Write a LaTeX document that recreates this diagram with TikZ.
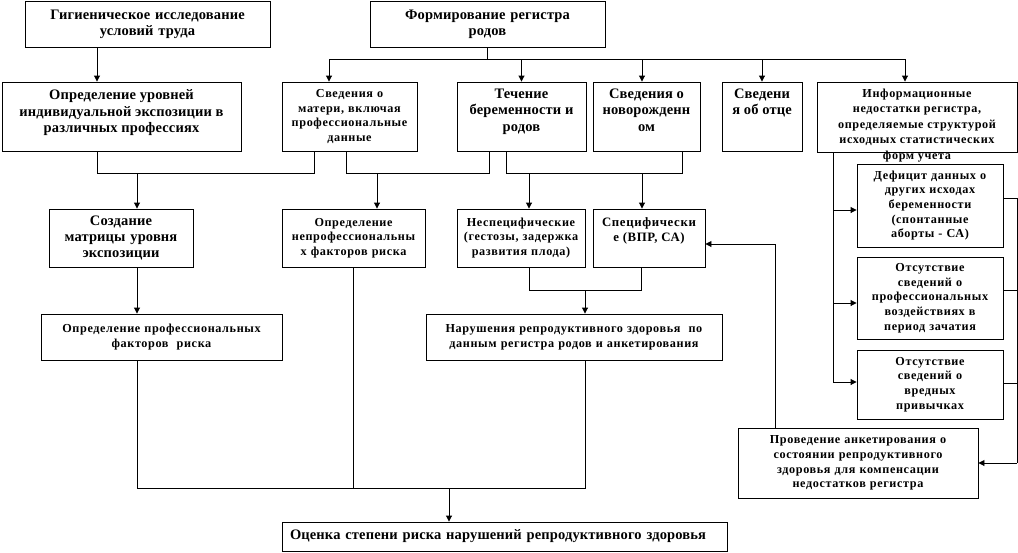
\documentclass[tikz,border=0pt]{standalone}
\usepackage{fontspec}
\setmainfont{Liberation Serif}
\newfontfamily\smallfam[LetterSpace=5]{Liberation Serif}
\newfontfamily\bigfam[LetterSpace=1]{Liberation Serif}
\usetikzlibrary{arrows.meta}
\newcommand{\bigf}{\bigfam\fontsize{14.5}{16.3}\selectfont\bfseries}
\newcommand{\smf}{\smallfam\fontsize{12.2}{14.7}\selectfont\bfseries}
\newcommand{\midf}{\smallfam\fontsize{12.8}{14.5}\selectfont\bfseries}
\newcommand{\tbx}[4]{\parbox[c][#1][t]{#2}{\centering\vspace*{#3}#4\par}}
\tikzset{
  box/.style={draw, line width=0.9pt, inner sep=0pt, align=center},
  bbox/.style={box, font=\bigf},
  sbox/.style={box, font=\smf},
  arr/.style={-{Triangle[length=6pt,width=6pt]}},
}
\begin{document}
\begin{tikzpicture}[x=1pt,y=-1pt,line width=0.9pt]
\useasboundingbox (0,0) rectangle (1018,552);
% row 1
\node[bbox,minimum width=245pt,minimum height=46pt,text width=241pt] (g) at (147.5,24) {Гигиеническое исследование\\условий труда};
\node[bbox,minimum width=235pt,minimum height=46pt,text width=231pt] (f) at (487.5,24) {Формирование регистра\\родов};
% row 2
\node[box] (u) at (121.5,116.5) {\tbx{69pt}{239pt}{8pt}{\bigf Определение уровней\\индивидуальной экспозиции в\\различных профессиях}};
\node[sbox,minimum width=135pt,minimum height=69pt,text width=133pt] (m) at (349.5,116.5) {Сведения о\\матери, включая\\профессиональные\\данные};
\node[box] (t) at (521.5,116.5) {\tbx{69pt}{129pt}{7pt}{\bigf Течение\\беременности и\\родов}};
\node[box] (n) at (646.5,116.5) {\tbx{69pt}{107pt}{7pt}{\bigf Сведения о\\новорожденн\\ом}};
\node[box] (o) at (762,116.5) {\tbx{69pt}{80pt}{7pt}{\bigf Сведени\\я об отце}};
\node[box] (i) at (917,117) {\tbx{70pt}{200pt}{7pt}{\smallfam\fontsize{12.2}{15.5}\selectfont\bfseries Информационные\\недостатки регистра,\\определяемые структурой\\исходных статистических\\форм учета}};
% row 3
\node[bbox,minimum width=144pt,minimum height=58pt,text width=140pt] (c) at (121,238) {Создание\\матрицы уровня\\экспозиции};
\node[sbox,minimum width=143pt,minimum height=58pt,text width=141pt] (np) at (353.5,238) {Определение\\непрофессиональны\\х факторов риска};
\node[sbox,minimum width=128pt,minimum height=58pt,text width=126pt] (ns) at (521,238) {Неспецифические\\(гестозы, задержка\\развития плода)};
\node[box] (sp) at (649,238) {\tbx{58pt}{112pt}{9pt}{\midf Специфически\\е (ВПР, СА)}};
% row 4
\node[sbox,minimum width=241pt,minimum height=46pt,text width=237pt] (pf) at (161.5,337) {Определение профессиональных\\факторов\ \ риска};
\node[sbox,minimum width=296pt,minimum height=46pt,text width=292pt] (nr) at (574,337) {Нарушения репродуктивного здоровья\ \ по\\данным регистра родов и анкетирования};
% right column
\node[sbox,minimum width=146pt,minimum height=83pt,text width=142pt] (d) at (930,205.5) {Дефицит данных о\\других исходах\\беременности\\(спонтанные\\аборты - СА)};
\node[sbox,minimum width=146pt,minimum height=82pt,text width=142pt] (ps) at (930,298) {Отсутствие\\сведений о\\профессиональных\\воздействиях в\\период зачатия};
\node[sbox,minimum width=146pt,minimum height=69pt,text width=142pt] (vp) at (930,384.5) {Отсутствие\\сведений о\\вредных\\привычках};
\node[sbox,minimum width=240pt,minimum height=70pt,text width=236pt] (an) at (858,463) {Проведение анкетирования о\\состоянии репродуктивного\\здоровья для компенсации\\недостатков регистра};
% bottom
\node[box,font=\bigf,align=left,minimum width=445pt,minimum height=29pt,text width=441pt] (oc) at (504.5,536.5) {\hspace*{6pt}Оценка степени риска нарушений репродуктивного здоровья};

% connectors
\coordinate (xg) at (97,0);
\draw[arr] (xg |- g.south) -- (xg |- u.north);
\coordinate (b1) at (329,59); \coordinate (b2) at (905,59);
\draw (f.south) -- (f.south |- b1);
\draw (b1) -- (b2);
\draw[arr] (b1) -- (b1 |- m.north);
\draw[arr] (t.north |- b1) -- (t.north);
\coordinate (xn) at (642,59); \draw[arr] (xn) -- (xn |- n.north);
\draw[arr] (o.north |- b1) -- (o.north);
\draw[arr] (b2) -- (b2 |- i.north);

\coordinate (x97) at (97,173); \coordinate (x314) at (314,173);
\draw (x97 |- u.south) -- (x97) -- (x314) -- (x314 |- m.south);
\coordinate (x137) at (137,173); \draw[arr] (x137) -- (x137 |- c.north);
\coordinate (x346) at (346,173); \coordinate (x489) at (489,173);
\draw (x346 |- m.south) -- (x346) -- (x489) -- (x489 |- t.south);
\coordinate (x377) at (377,173); \draw[arr] (x377) -- (x377 |- np.north);
\coordinate (x506) at (506,173); \coordinate (x682) at (682,173);
\draw (x506 |- t.south) -- (x506) -- (x682) -- (x682 |- n.south);
\coordinate (x529) at (529,173); \draw[arr] (x529) -- (x529 |- ns.north);
\draw[arr] (xn |- x529) -- (xn |- sp.north);

\draw[arr] (x137 |- c.south) -- (x137 |- pf.north);
\coordinate (ya) at (529,290); \coordinate (yb) at (641,290);
\draw (ya |- ns.south) -- (ya) -- (yb) -- (yb |- sp.south);
\coordinate (x585) at (585,290); \draw[arr] (x585) -- (x585 |- nr.north);

\coordinate (bb1) at (137,488); \coordinate (bb2) at (585,488);
\draw (bb1 |- pf.south) -- (bb1) -- (bb2) -- (bb2 |- nr.south);
\coordinate (x353) at (353,488); \draw (x353 |- np.south) -- (x353);
\coordinate (x449) at (449,488); \draw[arr] (x449) -- (x449 |- oc.north);

\coordinate (rl) at (833,382); \draw (rl |- i.south) -- (rl);
\coordinate (ra1) at (833,210); \draw[arr] (ra1) -- (ra1 -| d.west);
\coordinate (ra2) at (833,303); \draw[arr] (ra2) -- (ra2 -| ps.west);
\draw[arr] (rl) -- (rl -| vp.west);
\coordinate (s1) at (1017,198); \coordinate (s2) at (1017,290); \coordinate (s3) at (1017,383);
\coordinate (rr) at (1017,463);
\draw (s1 -| d.east) -- (s1); \draw (s2 -| ps.east) -- (s2); \draw (s3 -| vp.east) -- (s3);
\draw (s1) -- (rr); \draw[arr] (rr) -- (rr -| an.east);
\coordinate (qa) at (775,244);
\draw[arr] (qa |- an.north) -- (qa) -- (qa -| sp.east);
\end{tikzpicture}
\end{document}
